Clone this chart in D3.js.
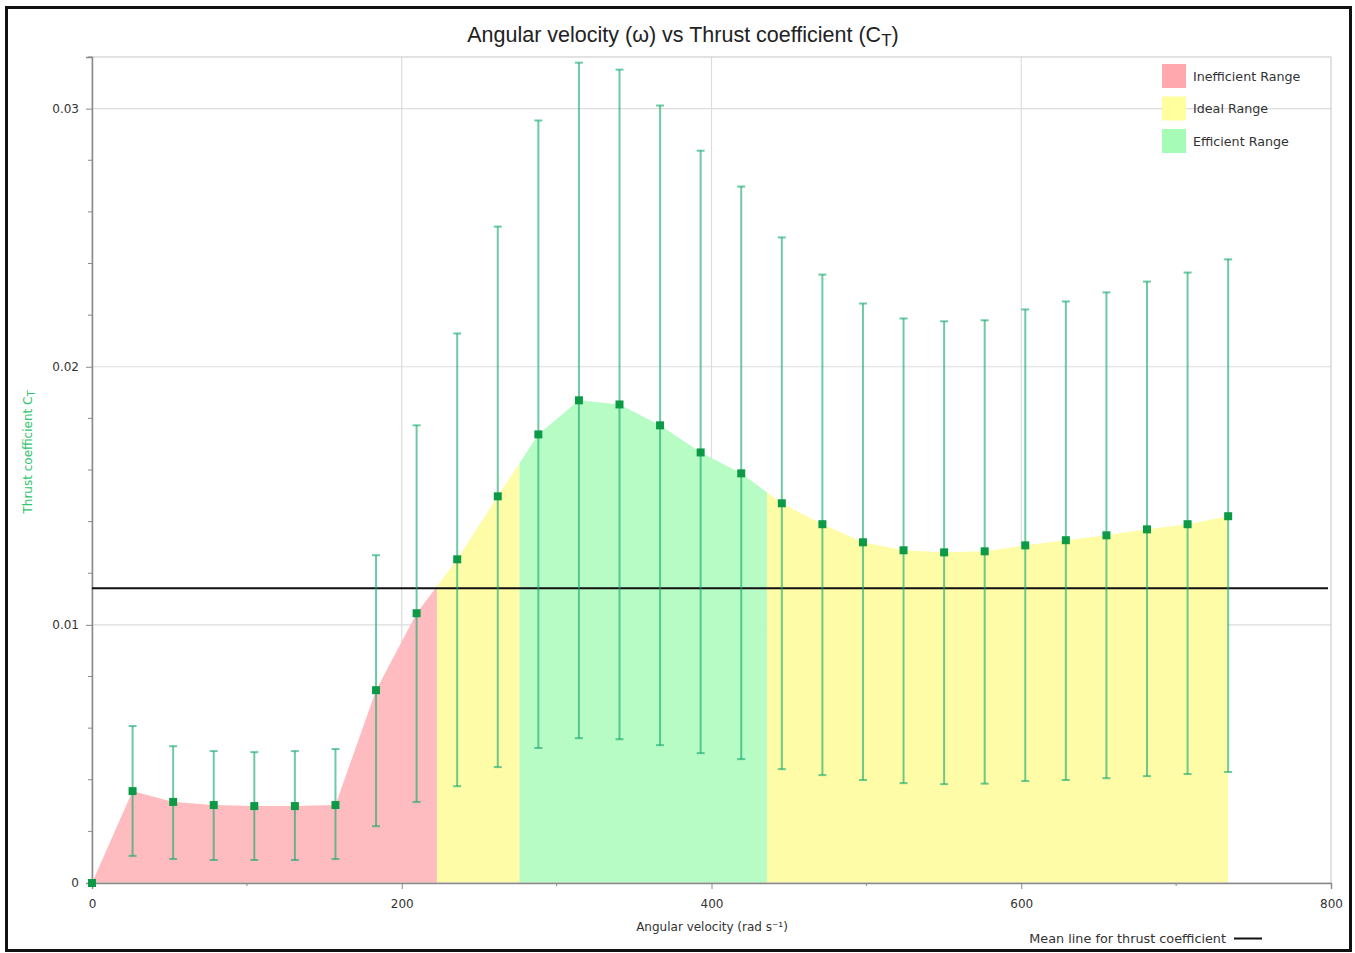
<!DOCTYPE html>
<html>
<head>
<meta charset="utf-8">
<script src="https://cdn.jsdelivr.net/npm/d3@7"></script>
<style>
  body { margin: 0; background: #fff; }
  svg { display: block; }
  text { font-family: "DejaVu Sans", sans-serif; }
</style>
</head>
<body>
<svg id="chart"></svg>
<script>
// datos
var omega = [0, 26.2, 52.4, 78.6, 104.8, 131.0, 157.2, 183.4, 209.6, 235.8, 262.0, 288.2, 314.4, 340.6,
  366.8, 393.0, 419.2, 445.4, 471.6, 497.8, 524.0, 550.2, 576.4, 602.6, 628.8, 655.0, 681.2, 707.4, 733.6];
var ct = [0, 0.00356, 0.00314, 0.00302, 0.00298, 0.00298, 0.00302, 0.00747, 0.01045, 0.01254, 0.01498,
  0.01738, 0.01870, 0.01854, 0.01773, 0.01668, 0.01587, 0.01471, 0.01390, 0.01320, 0.01289, 0.01281,
  0.01285, 0.01308, 0.01328, 0.01347, 0.01370, 0.01390, 0.01421];
var ctHigh = [null, 0.00608, 0.00530, 0.00511, 0.00507, 0.00511, 0.00519, 0.01270, 0.01773, 0.02129, 0.02543,
  0.02954, 0.03178, 0.03151, 0.03012, 0.02837, 0.02698, 0.02501, 0.02357, 0.02245, 0.02187, 0.02176,
  0.02180, 0.02222, 0.02253, 0.02288, 0.02330, 0.02365, 0.02416];
var ctLow = [null, 0.00105, 0.00093, 0.00089, 0.00089, 0.00089, 0.00093, 0.00220, 0.00314, 0.00375, 0.00449,
  0.00523, 0.00561, 0.00557, 0.00534, 0.00503, 0.00480, 0.00441, 0.00418, 0.00399, 0.00387, 0.00383,
  0.00385, 0.00395, 0.00399, 0.00406, 0.00414, 0.00422, 0.00430];
var meanCt = 0.01142;

var rangeNames = ["Inefficient Range", "Ideal Range", "Efficient Range", "Ideal Range"];
var rangeStart = [0, 222.7, 276.0, 435.8];
var rangeEnd = [222.7, 276.0, 435.8, 733.6];
var rangeColors = {"Inefficient Range": "#ffbcc0", "Ideal Range": "#fffca8", "Efficient Range": "#b6fcc4"};
var legendNames = ["Inefficient Range", "Ideal Range", "Efficient Range"];
var legendColors = ["#ffa8ae", "#ffff9e", "#a6fcb6"];

var xTicks = [0, 200, 400, 600, 800];
var yTicks = [0, 0.01, 0.02, 0.03];

var svgWidth = 1355, svgHeight = 953;
var margin = {left: 92, right: 24, top: 57, bottom: 70};
var w = svgWidth - margin.left - margin.right;
var h = svgHeight - margin.top - margin.bottom;

var svg = d3.select("#chart").attr("width", svgWidth).attr("height", svgHeight);

// marco negro exterior
svg.append("rect").attr("x", 6.5).attr("y", 7.5).attr("width", 1344).attr("height", 943)
  .attr("fill", "none").attr("stroke", "#111").attr("stroke-width", 3);

var xScale = d3.scaleLinear().domain([0, 800]).range([0, w]);
var yScale = d3.scaleLinear().domain([0, 0.032]).range([h, 0]);

var g = svg.append("g").attr("transform", "translate(" + margin.left + "," + margin.top + ")");

// rejilla
g.selectAll(".gx").data(xTicks.slice(1, -1)).enter().append("line")
  .attr("x1", d => xScale(d)).attr("x2", d => xScale(d)).attr("y1", 0).attr("y2", h)
  .attr("stroke", "#dcdcdc").attr("stroke-width", 1.2);
g.selectAll(".gy").data(yTicks.slice(1)).enter().append("line")
  .attr("x1", 0).attr("x2", w).attr("y1", d => yScale(d)).attr("y2", d => yScale(d))
  .attr("stroke", "#dcdcdc").attr("stroke-width", 1.2);

// areas por rango
var defs = svg.append("defs");
var area = d3.area().x((d, i) => xScale(omega[i])).y0(h).y1(d => yScale(d));
rangeNames.forEach(function (name, i) {
  defs.append("clipPath").attr("id", "clip" + i).append("rect")
    .attr("x", xScale(rangeStart[i])).attr("y", 0)
    .attr("width", xScale(rangeEnd[i]) - xScale(rangeStart[i])).attr("height", h);
  g.append("path").datum(ct).attr("d", area)
    .attr("fill", rangeColors[name]).attr("clip-path", "url(#clip" + i + ")");
});

// borde del area de dibujo
g.append("rect").attr("x", 0).attr("y", 0).attr("width", w).attr("height", h)
  .attr("fill", "none").attr("stroke", "#cfcfcf").attr("stroke-width", 1.2);

// ejes
var ejeX = d3.axisBottom(xScale).tickValues(xTicks).tickSize(6).tickPadding(10);
var ejeY = d3.axisLeft(yScale).tickValues(yTicks).tickFormat(d => d === 0 ? "0" : d3.format(".2f")(d))
  .tickSize(6).tickPadding(7);
var gx = g.append("g").attr("transform", "translate(0," + h + ")").call(ejeX);
var gy = g.append("g").call(ejeY);
[gx, gy].forEach(function (a) {
  a.select(".domain").attr("stroke", "#8a8a8a").attr("stroke-width", 1.5);
  a.selectAll(".tick line").attr("stroke", "#8a8a8a");
  a.selectAll(".tick text").attr("fill", "#333").style("font-size", "12px");
});
// ticks menores
g.selectAll(".mx").data(d3.range(100, 800, 200)).enter().append("line")
  .attr("x1", d => xScale(d)).attr("x2", d => xScale(d)).attr("y1", h).attr("y2", h + 3)
  .attr("stroke", "#8a8a8a");
var minorY = yScale.ticks(16).filter(v => yTicks.indexOf(v) < 0 && v > 0);
g.selectAll(".my").data(minorY).enter().append("line")
  .attr("x1", -4).attr("x2", 0).attr("y1", d => yScale(d)).attr("y2", d => yScale(d))
  .attr("stroke", "#8a8a8a");

// linea media
g.append("line").attr("x1", 0).attr("x2", w - 3).attr("y1", yScale(meanCt)).attr("y2", yScale(meanCt))
  .attr("stroke", "#111").attr("stroke-width", 2);

// barras de error
var errColor = "rgba(20,170,110,0.62)";
var idx = d3.range(omega.length).filter(i => ctHigh[i] !== null);
g.selectAll(".err").data(idx).enter().append("line")
  .attr("x1", i => xScale(omega[i])).attr("x2", i => xScale(omega[i]))
  .attr("y1", i => yScale(ctHigh[i])).attr("y2", i => yScale(ctLow[i]))
  .attr("stroke", errColor).attr("stroke-width", 2);
g.selectAll(".capT").data(idx).enter().append("line")
  .attr("x1", i => xScale(omega[i]) - 4).attr("x2", i => xScale(omega[i]) + 4)
  .attr("y1", i => yScale(ctHigh[i])).attr("y2", i => yScale(ctHigh[i]))
  .attr("stroke", errColor).attr("stroke-width", 2);
g.selectAll(".capB").data(idx).enter().append("line")
  .attr("x1", i => xScale(omega[i]) - 4).attr("x2", i => xScale(omega[i]) + 4)
  .attr("y1", i => yScale(ctLow[i])).attr("y2", i => yScale(ctLow[i]))
  .attr("stroke", errColor).attr("stroke-width", 2);

// puntos
g.selectAll(".pt").data(ct).enter().append("rect")
  .attr("x", (d, i) => xScale(omega[i]) - 4).attr("y", d => yScale(d) - 4)
  .attr("width", 8).attr("height", 8).attr("fill", "#0d9a47");

// titulo
var title = svg.append("text").attr("x", 683).attr("y", 42).attr("text-anchor", "middle")
  .attr("fill", "#222").style("font-family", "'Liberation Sans', Arial, sans-serif").style("font-size", "21.5px");
title.append("tspan").text("Angular velocity (\u03C9) vs Thrust coefficient (C");
title.append("tspan").attr("dy", 4).style("font-size", "17px").text("T");
title.append("tspan").attr("dy", -4).text(")");

// etiqueta eje x
svg.append("text").attr("x", 712).attr("y", 931).attr("text-anchor", "middle")
  .attr("fill", "#333").style("font-size", "12px").text("Angular velocity (rad s\u207B\u00B9)");

// etiqueta eje y
var ylab = svg.append("text").attr("transform", "translate(32,452) rotate(-90)").attr("text-anchor", "middle")
  .attr("fill", "#2fc46e").style("font-size", "12px");
ylab.append("tspan").text("Thrust coefficient C");
ylab.append("tspan").attr("dy", 3).style("font-size", "10px").text("T");

// leyenda
var leg = svg.append("g").attr("transform", "translate(1162,64)");
legendNames.forEach(function (name, i) {
  leg.append("rect").attr("x", 0).attr("y", i * 32.5).attr("width", 24).attr("height", 24)
    .attr("fill", legendColors[i]);
  leg.append("text").attr("x", 31).attr("y", i * 32.5 + 16.5).attr("fill", "#333")
    .style("font-size", "12.7px").text(name);
});

// leyenda linea media
svg.append("text").attr("x", 1226).attr("y", 943).attr("text-anchor", "end")
  .attr("fill", "#333").style("font-size", "12.8px").text("Mean line for thrust coefficient");
svg.append("line").attr("x1", 1234).attr("x2", 1262).attr("y1", 938.5).attr("y2", 938.5)
  .attr("stroke", "#111").attr("stroke-width", 2);
</script>
</body>
</html>
